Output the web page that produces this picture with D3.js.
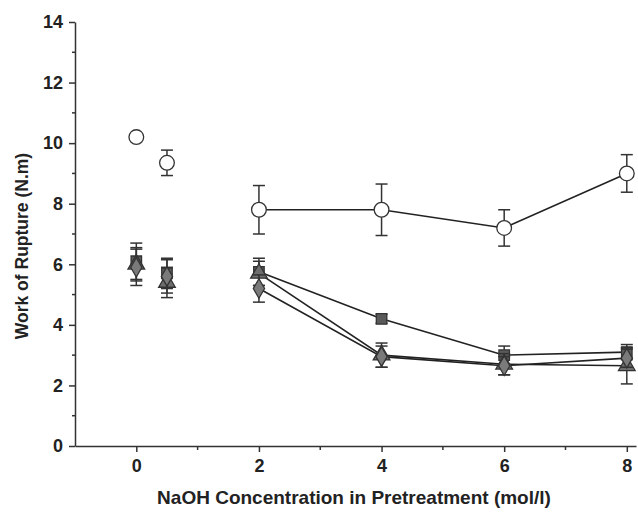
<!DOCTYPE html>
<html><head><meta charset="utf-8">
<script src="https://cdn.jsdelivr.net/npm/d3@7"></script>
<style>body{margin:0;background:#fff}svg{display:block}</style>
</head><body>
<script>
// Data
const concentrations = [0, 0.5, 2, 4, 6, 8];
const circleVals = [10.2, 9.35, 7.8, 7.8, 7.2, 9.0];
const circleErr  = [0.1, 0.42, 0.8, 0.85, 0.6, 0.62];
const squareVals = [6.1, 5.7, 5.75, 4.2, 3.0, 3.1];
const squareErr  = [0.6, 0.5, 0.45, 0.15, 0.3, 0.25];
const triVals    = [6.0, 5.4, 5.7, 3.0, 2.7, 2.65];
const triErr     = [0.55, 0.5, 0.4, 0.4, 0.35, 0.6];
const diaVals    = [5.9, 5.6, 5.2, 2.95, 2.65, 2.9];
const diaErr     = [0.6, 0.55, 0.45, 0.35, 0.3, 0.3];
const xTicks = [0, 2, 4, 6, 8];
const yTicks = [0, 2, 4, 6, 8, 10, 12, 14];
const xTitle = "NaOH Concentration in Pretreatment (mol/l)";
const yTitle = "Work of Rupture (N.m)";
const connectedFrom = 2; // lines drawn from index 2 onward

const W = 638, H = 515;
const svg = d3.select("body").append("svg").attr("width", W).attr("height", H);
const x = d3.scaleLinear().domain([-1, 8.15]).range([75, 636]);
const y = d3.scaleLinear().domain([0, 14]).range([446, 22]);
const font = "'Liberation Sans', Arial, sans-serif";

// axes
const axisColor = "#333";
const xAxis = svg.append("g").attr("transform", `translate(0,${y(0)})`)
  .call(d3.axisBottom(x).tickValues(xTicks).tickSize(6).tickSizeOuter(0).tickPadding(7));
const yAxis = svg.append("g").attr("transform", `translate(${x(-1)},0)`)
  .call(d3.axisLeft(y).tickValues(yTicks).tickSize(6).tickSizeOuter(0).tickPadding(6));
[xAxis, yAxis].forEach(g => {
  g.select(".domain").attr("stroke", axisColor).attr("stroke-width", 1.5);
  g.selectAll(".tick line").attr("stroke", axisColor).attr("stroke-width", 1.5);
  g.selectAll(".tick text").attr("font-family", font).attr("font-weight", "bold")
    .attr("font-size", 18).attr("fill", "#222");
});
// minor ticks
svg.append("g").selectAll("line").data(d3.range(1, 14, 2)).join("line")
  .attr("x1", x(-1)).attr("x2", x(-1) - 3).attr("y1", d => y(d)).attr("y2", d => y(d))
  .attr("stroke", axisColor).attr("stroke-width", 1.5);
svg.append("g").selectAll("line").data([1, 3, 5, 7]).join("line")
  .attr("x1", d => x(d)).attr("x2", d => x(d)).attr("y1", y(0)).attr("y2", y(0) + 4)
  .attr("stroke", axisColor).attr("stroke-width", 1.5);

// titles
svg.append("text").attr("x", 354).attr("y", 504).attr("text-anchor", "middle")
  .attr("font-family", font).attr("font-weight", "bold").attr("font-size", 19).attr("fill", "#222")
  .text(xTitle);
svg.append("text").attr("transform", `translate(28,${246}) rotate(-90)`)
  .attr("text-anchor", "middle")
  .attr("font-family", font).attr("font-weight", "bold").attr("font-size", 17.5).attr("fill", "#222")
  .text(yTitle);

const series = [
  {vals: squareVals, err: squareErr, sym: d3.symbolSquare, size: 110, fill: "#5a5a5a"},
  {vals: triVals, err: triErr, sym: d3.symbolTriangle, size: 120, fill: "#6e6e6e"},
  {vals: diaVals, err: diaErr, sym: d3.symbolDiamond, size: 110, fill: "#7a7a7a"},
  {vals: circleVals, err: circleErr, sym: d3.symbolCircle, size: 170, fill: "#fff"}
];

const line = d3.line().x(d => x(d[0])).y(d => y(d[1]));
series.forEach(s => {
  const pts = concentrations.map((c, i) => [c, s.vals[i], s.err[i]]);
  svg.append("path").datum(pts.slice(connectedFrom)).attr("d", line)
    .attr("fill", "none").attr("stroke", "#222").attr("stroke-width", 1.6);
});
series.forEach(s => {
  const pts = concentrations.map((c, i) => [c, s.vals[i], s.err[i]]);
  const g = svg.append("g");
  const eb = g.selectAll("g.eb").data(pts).join("g");
  eb.append("line").attr("x1", d => x(d[0])).attr("x2", d => x(d[0]))
    .attr("y1", d => y(d[1] - d[2])).attr("y2", d => y(d[1] + d[2]))
    .attr("stroke", "#333").attr("stroke-width", 1.5);
  [1, -1].forEach(sg => {
    eb.append("line").attr("x1", d => x(d[0]) - 6).attr("x2", d => x(d[0]) + 6)
      .attr("y1", d => y(d[1] + sg * d[2])).attr("y2", d => y(d[1] + sg * d[2]))
      .attr("stroke", "#333").attr("stroke-width", 1.5);
  });
  g.selectAll("path").data(pts).join("path")
    .attr("d", d3.symbol().type(s.sym).size(s.size))
    .attr("transform", d => `translate(${x(d[0])},${y(d[1])})`)
    .attr("fill", s.fill).attr("stroke", "#333").attr("stroke-width", 1.3);
});
</script>
</body></html>
